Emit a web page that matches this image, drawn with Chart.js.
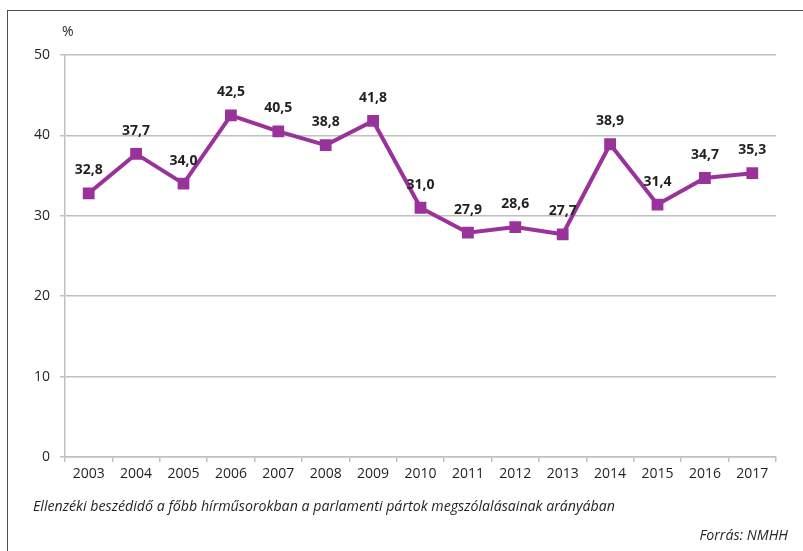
<!DOCTYPE html>
<html>
<head>
<meta charset="utf-8">
<script src="https://cdn.jsdelivr.net/npm/chart.js@4"></script>
<style>
  html, body { margin: 0; padding: 0; background: #fff; }
  #wrap { position: relative; width: 803px; height: 551px; overflow: hidden; }
  #frame { position: absolute; left: 7px; top: 10px; width: 820px; height: 600px;
           border-left: 1.5px solid #4d4d4d; border-top: 1.5px solid #4d4d4d; }
  .txt { position: absolute; font-family: "Open Sans", sans-serif; color: #231f20; font-size: 14px; white-space: nowrap; }
  #unit { left: 62px; top: 21px; }
  #caption { left: 33px; top: 496px; font-style: italic; font-size: 14.2px; }
  #source { right: 15px; top: 525px; font-style: italic; font-size: 14.2px; }
  canvas { position: absolute; left: 0; top: 0; }
</style>
</head>
<body>
<div id="wrap">
  <div id="frame"></div>
  <canvas id="chart" width="803" height="551"></canvas>
  <div class="txt" id="unit">%</div>
  <div class="txt" id="caption">Ellenzéki beszédidő a főbb hírműsorokban a parlamenti pártok megszólalásainak arányában</div>
  <div class="txt" id="source">Forrás: NMHH</div>
</div>
<script>
// Years on the x axis
const years = ['2003', '2004', '2005', '2006', '2007', '2008', '2009', '2010',
               '2011', '2012', '2013', '2014', '2015', '2016', '2017'];

// Share of opposition speaking time (%)
const shares = [32.8, 37.7, 34.0, 42.5, 40.5, 38.8, 41.8, 31.0,
                27.9, 28.6, 27.7, 38.9, 31.4, 34.7, 35.3];

// Y axis range
const yMin = 0;
const yMax = 50;
const yStep = 10;

const lineColor = '#993399';
const gridColor = '#c0c0c0';
const textColor = '#231f20';

// Bold value labels above each point, formatted with decimal comma
const valueLabels = {
  id: 'valueLabels',
  afterDatasetsDraw(chart) {
    const ctx = chart.ctx;
    const meta = chart.getDatasetMeta(0);
    ctx.save();
    ctx.font = 'bold 14px "Open Sans", sans-serif';
    ctx.fillStyle = textColor;
    ctx.textAlign = 'center';
    ctx.textBaseline = 'middle';
    meta.data.forEach((pt, i) => {
      ctx.fillText(shares[i].toFixed(1).replace('.', ','), pt.x, pt.y - 23);
    });
    ctx.restore();
  }
};

new Chart(document.getElementById('chart'), {
  type: 'line',
  data: {
    labels: years,
    datasets: [{
      data: shares,
      borderColor: lineColor,
      backgroundColor: lineColor,
      borderWidth: 4,
      pointStyle: 'rect',
      pointRadius: 5.5,
      pointHoverRadius: 5.5,
      tension: 0
    }]
  },
  options: {
    responsive: false,
    animation: false,
    layout: { padding: { left: 0, top: 55, right: 27, bottom: 64 } },
    plugins: {
      legend: { display: false },
      tooltip: { enabled: false }
    },
    scales: {
      x: {
        offset: true,
        afterFit: (s) => { s.height = 30; },
        border: { color: gridColor, width: 1.5 },
        grid: { offset: true, drawOnChartArea: false, color: gridColor, tickLength: 5, lineWidth: 1.5 },
        ticks: { color: textColor, padding: 4, font: { family: '"Open Sans", sans-serif', size: 14 } }
      },
      y: {
        min: yMin,
        max: yMax,
        afterFit: (s) => { s.width = 65; },
        border: { color: gridColor, width: 1.5 },
        grid: { color: gridColor, tickLength: 5, lineWidth: 1.5 },
        ticks: { stepSize: yStep, color: textColor, padding: 10, font: { family: '"Open Sans", sans-serif', size: 14 } }
      }
    }
  },
  plugins: [valueLabels]
});
</script>
</body>
</html>
